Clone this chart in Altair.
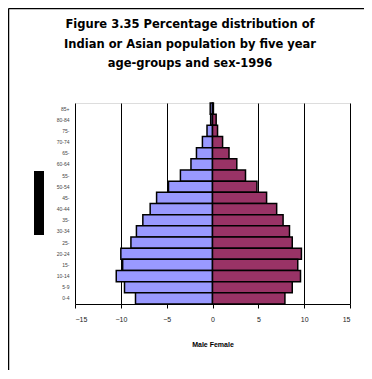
import altair as alt
import pandas as pd

ages = ["85+", "80-84", "75-", "70-74", "65-", "60-64", "55-", "50-54", "45-",
        "40-44", "35-", "30-34", "25-", "20-24", "15-", "10-14", "5-9", "0-4"]
male = [-0.25, -0.2, -0.6, -1.1, -1.75, -2.35, -3.5, -4.8, -6.1,
        -6.8, -7.6, -8.3, -8.9, -10.0, -9.8, -10.5, -9.6, -8.4]
female = [0.1, 0.4, 0.55, 1.1, 1.8, 2.65, 3.6, 4.85, 5.9,
          7.0, 7.7, 8.4, 8.7, 9.7, 9.3, 9.6, 8.7, 7.9]
sexes = ["Male", "Female"]
colors = ["#9999FF", "#993366"]
x_ticks = [-15, -10, -5, 0, 5, 10, 15]
title_lines = ["Figure 3.35 Percentage distribution of",
               "Indian or Asian population by five year",
               "age-groups and sex-1996"]

rows = []
for a, m, f in zip(ages, male, female):
    rows.append({"age": a, "sex": "Male", "value": m})
    rows.append({"age": a, "sex": "Female", "value": f})
df = pd.DataFrame(rows)
one = pd.DataFrame({"k": [0]})

W, H = 275, 201

bars = alt.Chart(df).mark_bar(stroke="black", strokeWidth=1.5).encode(
    x=alt.X("value:Q",
            scale=alt.Scale(domain=[-15, 15], nice=False, zero=False),
            axis=alt.Axis(values=x_ticks, title="Male Female", grid=True,
                          gridColor="black", gridWidth=1, domainColor="black",
                          tickColor="black", tickSize=4, labelFontSize=7,
                          labelFont="Liberation Sans", labelColor="#222",
                          labelPadding=7, titleFont="Liberation Sans",
                          titleFontSize=7, titleFontWeight="bold",
                          titlePadding=18, titleColor="black")),
    y=alt.Y("age:N", sort=ages,
            scale=alt.Scale(paddingInner=0.0, paddingOuter=0.0),
            axis=alt.Axis(title=None, ticks=False, domain=False,
                          labelFontSize=5, labelFont="Liberation Sans",
                          labelColor="#444", labelPadding=6)),
    color=alt.Color("sex:N", scale=alt.Scale(domain=sexes, range=colors),
                    legend=None),
)

frame_left = alt.Chart(one).mark_rule(color="black", strokeWidth=1.5).encode(
    x=alt.value(-66.5), y=alt.value(-94.5), y2=alt.value(267))
frame_top = alt.Chart(one).mark_rule(color="black", strokeWidth=1.5).encode(
    x=alt.value(-66.5), x2=alt.value(300), y=alt.value(-94.5))
blk = alt.Chart(one).mark_rect(color="black").encode(
    x=alt.value(-41), x2=alt.value(-31), y=alt.value(68), y2=alt.value(132))

title_layers = []
for line, yy in zip(title_lines, [-78, -58.5, -39]):
    title_layers.append(
        alt.Chart(one).mark_text(font="DejaVu Sans", fontSize=11.5,
                                 fontWeight="bold", color="black",
                                 align="center", baseline="middle").encode(
            x=alt.value(115), y=alt.value(yy), text=alt.value(line)))

chart = alt.layer(bars, frame_left, frame_top, blk, *title_layers).properties(
    width=W, height=H,
    autosize=alt.AutoSizeParams(type="none"),
    padding={"left": 67, "top": 95, "right": 14, "bottom": 67},
).configure_view(fill="#C0C0C0", stroke="#808080", strokeWidth=1.5
).configure(background="white")

chart.save("out.html", embed_options={"renderer": "svg", "actions": False})
